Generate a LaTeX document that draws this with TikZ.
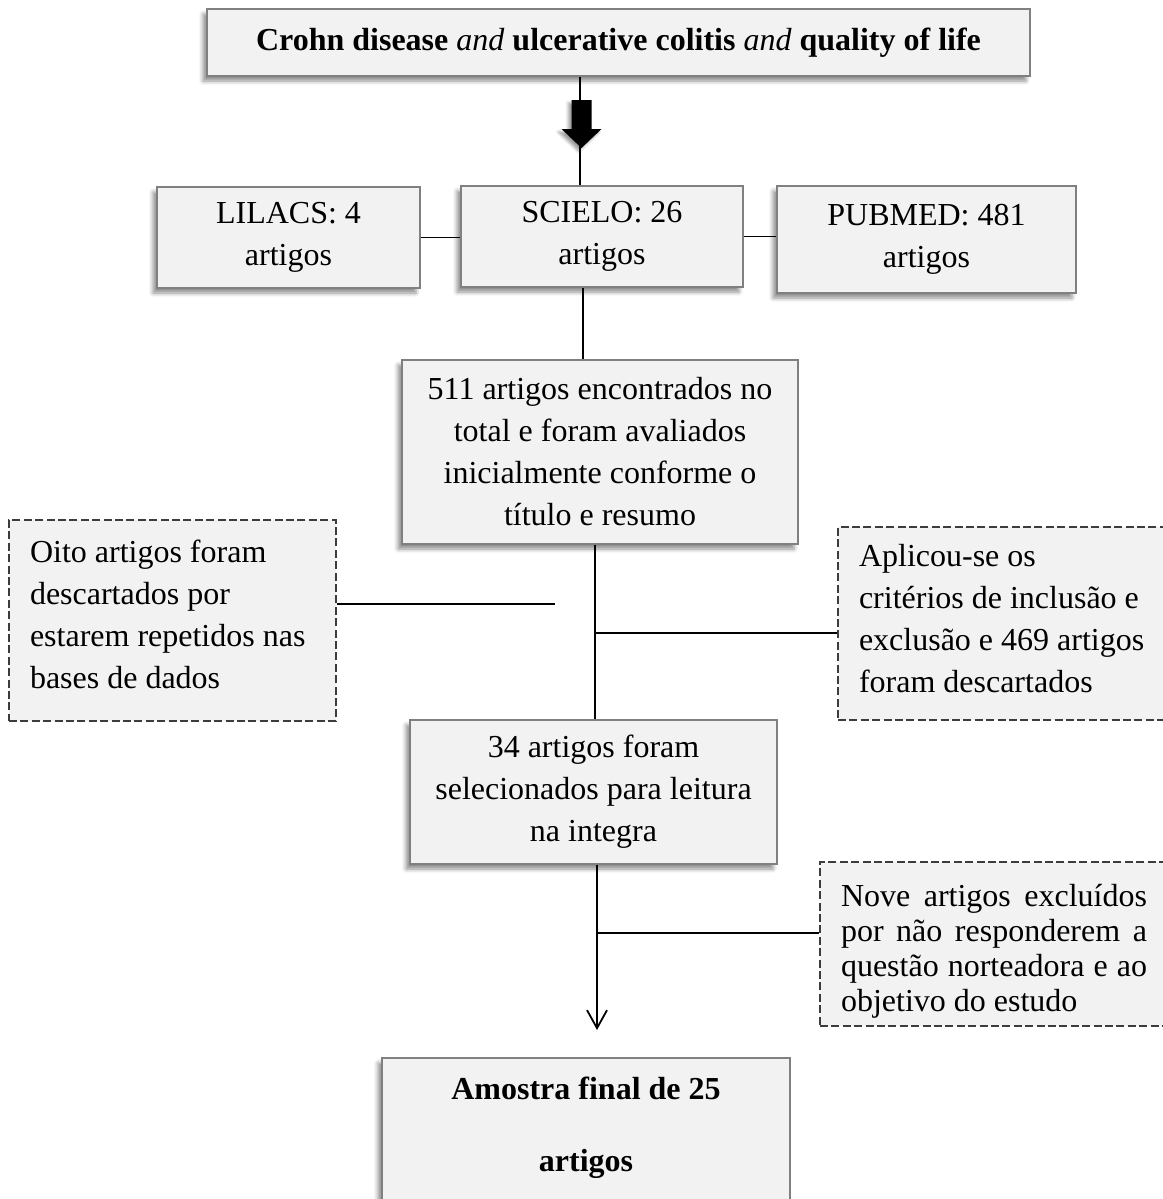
\documentclass[tikz,border=0pt]{standalone}
\usepackage{fontspec}
\setmainfont{Liberation Serif}
\usepackage{tikz}
\usetikzlibrary{arrows.meta,shadows.blur}

\definecolor{boxfill}{RGB}{242,242,242}
\definecolor{boxline}{RGB}{128,128,128}
\definecolor{dashline}{RGB}{60,60,60}

\begin{document}
\begin{tikzpicture}[x=0.5pt,y=-0.5pt,>={Straight Barb[length=9pt,width=10pt]},
                    line width=0.9pt]
  \tikzstyle{every node}=[font=\fontsize{16}{21}\selectfont]
  \tikzstyle{databox}=[draw=boxline,line width=0.6pt,fill=boxfill,align=center,inner sep=0pt,
                       blur shadow={shadow xshift=-2pt,shadow yshift=-2.5pt,
                                    shadow blur radius=2pt,shadow opacity=45}]
  \tikzstyle{notebox}=[draw=dashline,line width=0.6pt,dash pattern=on 4pt off 1.7pt,
                       fill=boxfill,align=flush left,inner xsep=10.5pt,inner ysep=0pt]

  \useasboundingbox (0,0) rectangle (1162,1199);

  % search string and the three databases
  \node[databox,minimum width=411.5pt,minimum height=33.5pt] (top) at (618.5,42.5)
    {\textbf{Crohn disease} \textit{and} \textbf{ulcerative colitis} \textit{and} \textbf{quality of life}};
  \node[databox,minimum width=131.5pt,minimum height=50.5pt] (lil) at (288.5,237.5) {LILACS: 4\\artigos};
  \node[databox,minimum width=141pt,minimum height=50.5pt]   (sci) at (602,236.5)   {SCIELO: 26\\artigos};
  \node[databox,minimum width=149.5pt,minimum height=53.5pt] (pub) at (926.5,239.5) {PUBMED: 481\\artigos};

  % screening steps
  \node[databox,minimum width=198pt,minimum height=92pt] (tot) at (600,452)
    {511 artigos encontrados no\\total e foram avaliados\\inicialmente conforme o\\título e resumo};
  \node[databox,minimum width=183.5pt,minimum height=72pt] (sel) at (593.5,792)
    {34 artigos foram\\selecionados para leitura\\na integra};
  \node[databox,minimum width=204pt,minimum height=102pt,
        font=\fontsize{16}{36}\selectfont\bfseries] (fin) at (586,1160)
    {Amostra final de 25\\artigos\\\mbox{}};

  % exclusions
  \node[notebox,text width=142.5pt,minimum height=100.5pt] (dup) at (172.5,620.5)
    {Oito artigos foram\\descartados por\\estarem repetidos nas\\bases de dados\par
     \vspace{6pt}\hrule height0pt depth0pt};
  \node[notebox,text width=150pt,minimum height=96.5pt] (crit) at (1009,623.5)
    {Aplicou-se os\\critérios de inclusão e\\exclusão e 469 artigos\\foram descartados\par
     \vspace{5pt}\hrule height0pt depth0pt};
  \node[notebox,text width=153pt,minimum height=82pt,align=justify,
        font={\fontsize{16}{17.5}\selectfont\hyphenpenalty=10000}] (nove) at (994,944)
    {Nove artigos excluídos por não responderem a questão norteadora e ao objetivo do estudo\par
     \vspace{-7pt}\hrule height0pt depth0pt};

  \coordinate (c1)  at (580,0);
  \coordinate (c2)  at (583,0);
  \coordinate (c3)  at (595,0);
  \coordinate (j1)  at (555,604);
  \coordinate (j2)  at (595,633);
  \coordinate (j3)  at (597,933);
  \coordinate (tip) at (597,1030);

  \draw (top.south -| c1) -- (sci.north -| c1);
  \fill[black,blur shadow={shadow xshift=-1.5pt,shadow yshift=-1.5pt,shadow blur radius=1.5pt}]
    (571.5,100) -- (591.5,100) -- (591.5,129) -- (601.5,129) -- (581.5,148)
    -- (561.5,129) -- (571.5,129) -- cycle;
  \draw (lil.east) -- (lil.east -| sci.west);
  \draw (sci.east) -- (sci.east -| pub.west);
  \draw (sci.south -| c2) -- (tot.north -| c2);
  \draw (tot.south -| c3) -- (sel.north -| c3);
  \draw (dup.east |- j1) -- (j1);
  \draw (j2) -- (j2 -| crit.west);
  \draw[->] (sel.south -| tip) -- (tip);
  \draw (j3) -- (j3 -| nove.west);
\end{tikzpicture}
\end{document}
